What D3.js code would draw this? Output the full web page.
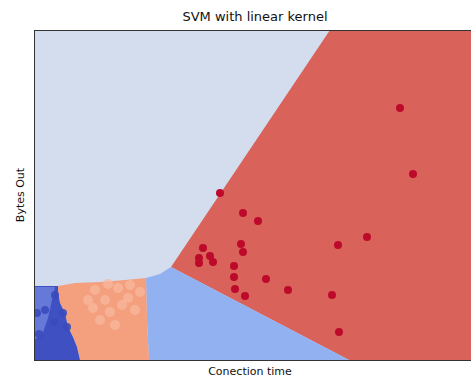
<!DOCTYPE html>
<html>
<head>
<meta charset="utf-8">
<script src="https://cdn.jsdelivr.net/npm/d3@7"></script>
<style>
  html, body { margin: 0; padding: 0; background: #fff; }
  svg { display: block; font-family: "DejaVu Sans", sans-serif; }
</style>
</head>
<body>
<svg id="chart" width="471" height="377"></svg>
<script>
// Decision regions (polygon outlines in data units: connection time, bytes out)
const regionRed = [[29.6,33],[44.2,33],[44.2,0],[31.5,0],[13.7,9.3]];
const regionMidBlue = [[11.2,8.2],[12.6,8.6],[13.7,9.3],[31.5,0],[11.5,0],[11.3,4.0]];
const regionSalmon = [[2.4,7.4],[4.1,7.7],[6.6,7.8],[9.1,8.0],[11.2,8.2],[11.3,4.0],[11.5,0],
  [4.6,0],[4.3,1.3],[3.9,2.3],[3.4,3.3],[3.1,4.7],[2.6,5.7],[2.4,6.8]];
const regionDarkBlue = [[0,7.4],[2.4,7.4],[2.4,6.8],[2.6,5.7],[3.1,4.7],[3.4,3.3],[3.9,2.3],
  [4.3,1.3],[4.6,0],[0,0]];
const regionDarkBlueLight = [[0,7.3],[2.1,7.3],[1.8,6.0],[1.4,4.2],[0.8,2.5],[0,2.0]];

// Observations, by class
const redX = [36.6,37.9,18.6,20.9,22.4,33.3,30.4,16.9,20.7,20.9,16.5,17.6,16.5,17.9,20.0,20.0,23.2,20.1,21.1,25.4,29.8,30.5];
const redY = [25.2,18.6,16.7,14.7,13.9,12.3,11.5,11.2,11.6,10.8,10.2,10.4,9.7,9.8,9.4,8.3,8.1,7.1,6.4,7.0,6.5,2.8];
const blueX = [2.1,0.3,1.1,2.9,3.3,0.5,2.0];
const blueY = [6.5,4.7,5.0,4.7,3.3,2.6,3.8];
const salmonX = [6.1,7.1,8.4,9.4,7.6,10.1,8.8,6.6,5.4,10.6,8.1,9.6,7.4,5.9];
const salmonY = [7.0,6.0,7.2,6.2,4.8,5.0,5.5,4.0,6.0,6.8,3.5,7.5,7.6,5.2];

const xDomain = [0, 44.2];
const yDomain = [0, 33];
const titleText = "SVM with linear kernel";
const xLabel = "Conection time";
const yLabel = "Bytes Out";

const svg = d3.select("#chart");
const margin = {left: 34, top: 30, right: 476, bottom: 360};

const x = d3.scaleLinear().domain(xDomain).range([margin.left, margin.right]);
const y = d3.scaleLinear().domain(yDomain).range([margin.bottom, margin.top]);

svg.append("defs").append("clipPath").attr("id", "plotClip")
  .append("rect")
  .attr("x", margin.left).attr("y", margin.top)
  .attr("width", margin.right - margin.left).attr("height", margin.bottom - margin.top);

const plot = svg.append("g").attr("clip-path", "url(#plotClip)");

// background region
plot.append("rect")
  .attr("x", margin.left).attr("y", margin.top)
  .attr("width", margin.right - margin.left).attr("height", margin.bottom - margin.top)
  .attr("fill", "#d4ddee");

const line = d3.line().x(d => x(d[0])).y(d => y(d[1])).curve(d3.curveLinearClosed);

const regions = [
  {pts: regionRed, fill: "#d9625a"},
  {pts: regionMidBlue, fill: "#92b1f1"},
  {pts: regionSalmon, fill: "#f4a07f"},
  {pts: regionDarkBlue, fill: "#3f50c2"},
  {pts: regionDarkBlueLight, fill: "#6479d8"}
];
plot.selectAll("path.region").data(regions).join("path")
  .attr("class", "region")
  .attr("d", d => line(d.pts))
  .attr("fill", d => d.fill);

function drawPoints(xs, ys, color, r, opacity) {
  plot.append("g").selectAll("circle").data(xs.map((v, i) => [v, ys[i]])).join("circle")
    .attr("cx", d => x(d[0])).attr("cy", d => y(d[1]))
    .attr("r", r).attr("fill", color).attr("fill-opacity", opacity);
}
drawPoints(salmonX, salmonY, "#f8b89e", 5, 0.75);
drawPoints(blueX, blueY, "#3a4bbd", 4, 0.9);
drawPoints(redX, redY, "#bd0a2a", 4, 1);

// axes frame (no ticks)
const frame = svg.append("g").attr("stroke", "#333").attr("stroke-width", 1).attr("fill", "none");
frame.append("line").attr("x1", margin.left + 0.5).attr("x2", margin.left + 0.5)
  .attr("y1", margin.top).attr("y2", margin.bottom);
frame.append("line").attr("x1", margin.left).attr("x2", margin.right)
  .attr("y1", margin.top + 0.5).attr("y2", margin.top + 0.5);
frame.append("line").attr("x1", margin.left).attr("x2", margin.right)
  .attr("y1", margin.bottom + 0.5).attr("y2", margin.bottom + 0.5);

const cx = (margin.left + margin.right) / 2;
svg.append("text").attr("x", cx).attr("y", 21)
  .attr("text-anchor", "middle").attr("font-size", 13).attr("fill", "#111")
  .text(titleText);
svg.append("text").attr("x", cx - 5).attr("y", 375)
  .attr("text-anchor", "middle").attr("font-size", 11).attr("fill", "#111")
  .text(xLabel);
svg.append("text")
  .attr("transform", `translate(24,${(margin.top + margin.bottom) / 2}) rotate(-90)`)
  .attr("text-anchor", "middle").attr("font-size", 11).attr("fill", "#111")
  .text(yLabel);
</script>
</body>
</html>
